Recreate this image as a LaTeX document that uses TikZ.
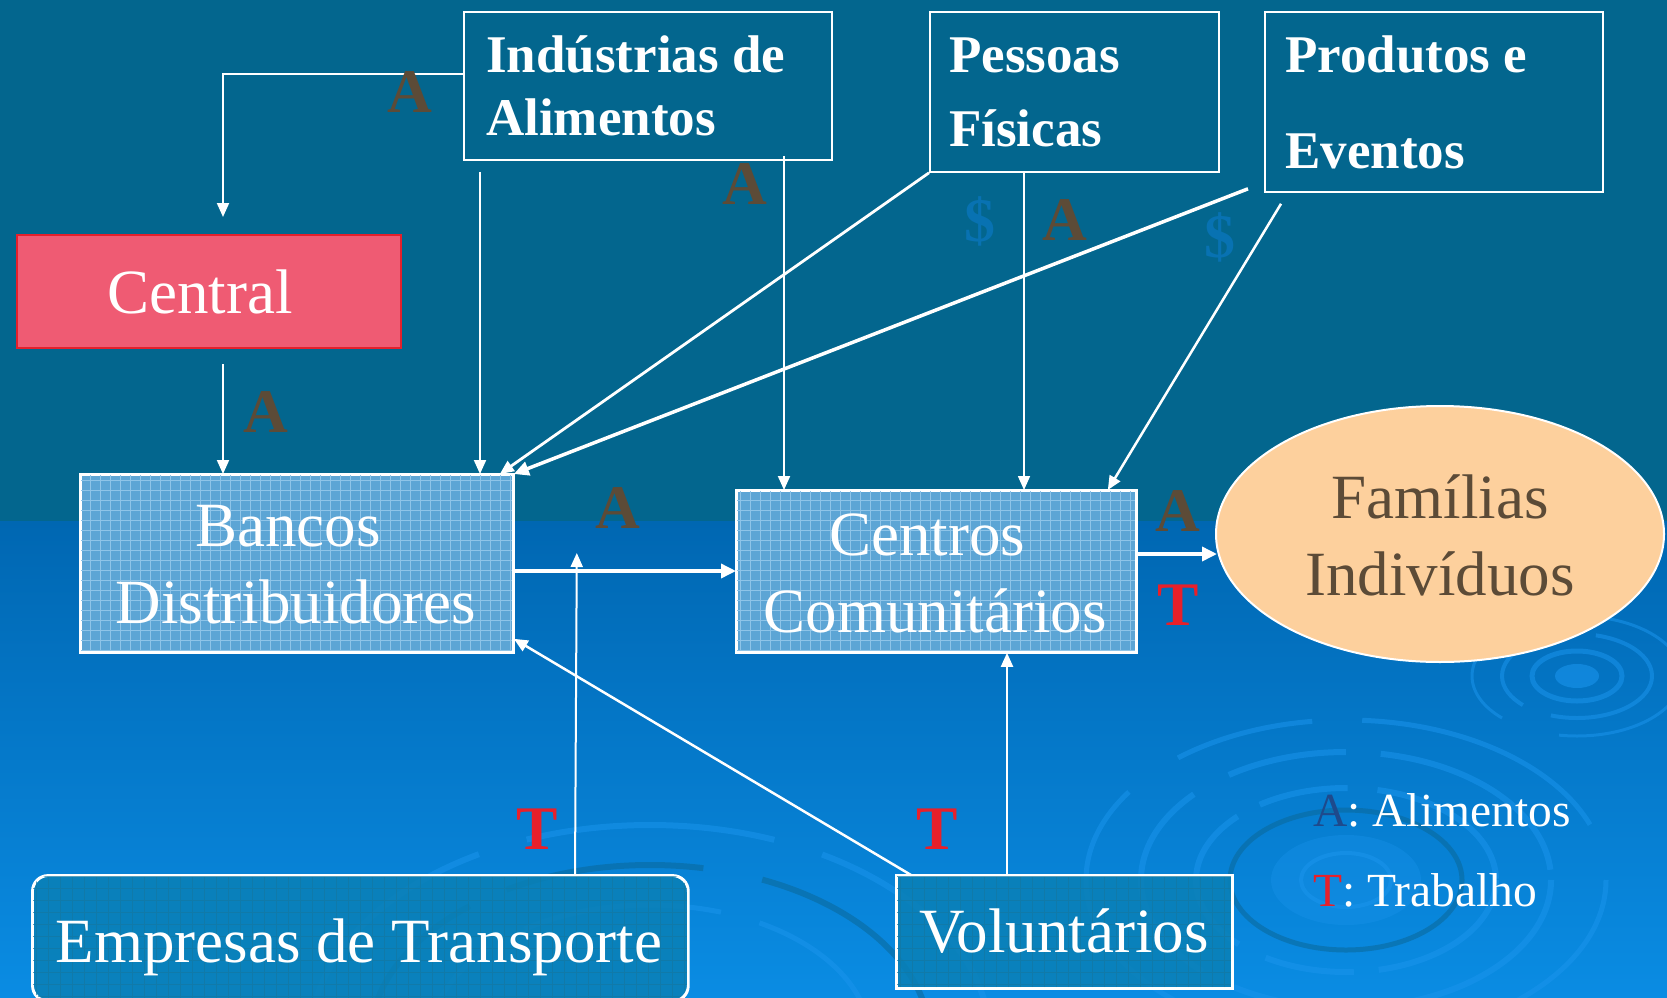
\documentclass[tikz,border=0pt]{standalone}
\usepackage{fontspec}
\setmainfont{Liberation Serif}
\usetikzlibrary{arrows.meta,calc,shapes.geometric}
\definecolor{topbg}{HTML}{03668E}
\definecolor{botA}{HTML}{0067B2}
\definecolor{botB}{HTML}{0A8CE3}
\definecolor{gridfill}{HTML}{5CA5D5}
\definecolor{gridln}{HTML}{8EC4E8}
\definecolor{tealfill}{HTML}{0A80B6}
\definecolor{tealln}{HTML}{1478A2}
\definecolor{centfill}{HTML}{EF5B73}
\definecolor{centdraw}{HTML}{E4202C}
\definecolor{famfill}{HTML}{FDD09D}
\definecolor{brownA}{HTML}{5C4B37}
\definecolor{redT}{HTML}{E8202A}
\definecolor{dollar}{HTML}{0872B2}
\definecolor{legA}{HTML}{1E4A8C}
\definecolor{ripL}{HTML}{1A94EC}
\definecolor{ripD}{HTML}{0A6A9E}
\newcommand\fsTop{\fontsize{53}{60}\selectfont\bfseries}
\newcommand\fsReg{\fontsize{63}{70}\selectfont}
\newcommand\fsLab{\fontsize{62}{70}\selectfont\bfseries}
\newcommand\fsLeg{\fontsize{47.5}{55}\selectfont}
\begin{document}
\begin{tikzpicture}[x=1pt,y=-1pt,
  topbox/.style={draw=white, line width=1.8pt, inner sep=0pt, anchor=north west},
  gridbox/.style={draw=white, line width=1.8pt, fill=gridfill, inner sep=0pt, anchor=north west},
  tealbox/.style={draw=white, line width=1.8pt, fill=tealfill, fill opacity=0.85, inner sep=0pt, anchor=north west},
  toptxt/.style={text=white, font=\fsTop, inner sep=0pt, anchor=base west},
  regtxt/.style={text=white, font=\fsReg, inner sep=0pt, anchor=base},
  labA/.style={text=brownA, font=\fsLab, inner sep=0pt},
  labT/.style={text=redT, font=\fsLab, inner sep=0pt},
  labD/.style={text=dollar, font=\fsLab, inner sep=0pt},
  legtxt/.style={text=white, font=\fsLeg, inner sep=0pt, anchor=base west},
  arr/.style={draw=white, line width=2pt, -{Triangle[length=14pt,width=12pt]}},
  thickarr/.style={draw=white, line width=3.5pt, -{Triangle[length=15pt,width=14pt]}},
  ripple/.style={draw=ripL, opacity=0.55},
  rippled/.style={draw=ripD, opacity=0.6}
]
\useasboundingbox (0,0) rectangle (1667,998);
% background
\fill[topbg] (0,0) rectangle (1667,521);
\shade[top color=botA, bottom color=botB] (0,521) rectangle (1667,998);

% ripples
\fill[ripL, opacity=0.35] (1346,880) ellipse [x radius=75, y radius=45];
\draw[ripple, line width=4pt] (1346,880) ellipse [x radius=45, y radius=27];
\draw[rippled, line width=5pt] (1346,880) ellipse [x radius=116, y radius=70];
\draw[ripple, line width=6pt, dash pattern=on 160pt off 25pt on 90pt off 30pt] (1346,880) ellipse [x radius=150, y radius=92];
\draw[ripple, line width=6pt, dash pattern=on 220pt off 40pt on 120pt off 35pt] (1346,880) ellipse [x radius=205, y radius=128];
\draw[ripple, line width=5pt, dash pattern=on 260pt off 60pt on 140pt off 50pt] (1346,880) ellipse [x radius=260, y radius=160];
\fill[ripL, opacity=0.6] (1577,676) ellipse [x radius=22, y radius=12];
\draw[ripple, line width=5pt] (1577,676) ellipse [x radius=45, y radius=25];
\draw[ripple, line width=4pt, dash pattern=on 120pt off 30pt] (1577,676) ellipse [x radius=75, y radius=42];
\draw[ripple, line width=3pt, dash pattern=on 150pt off 60pt] (1577,676) ellipse [x radius=105, y radius=60];
\draw[rippled, line width=6pt, dash pattern=on 300pt off 40pt on 200pt off 60pt] (650,1040) ellipse [x radius=280, y radius=175];
\draw[ripple, line width=6pt, dash pattern=on 250pt off 50pt] (650,1040) ellipse [x radius=340, y radius=215];
\draw[ripple, line width=5pt, dash pattern=on 200pt off 40pt] (650,1040) ellipse [x radius=220, y radius=135];

% top boxes
\node[topbox, minimum width=368pt, minimum height=148pt] (ind) at (463,11) {};
\node[topbox, minimum width=289pt, minimum height=160pt] (pes) at (929,11) {};
\node[topbox, minimum width=338pt, minimum height=180pt] (pro) at (1264,11) {};
\node[toptxt] (tind1) at (486,72) {Indústrias de};
\node[toptxt] (tind2) at (486,135) {Alimentos};
\node[toptxt] (tpes1) at (949,72) {Pessoas};
\node[toptxt] (tpes2) at (949,146) {Físicas};
\node[toptxt] (tpro1) at (1285,72) {Produtos e};
\node[toptxt] (tpro2) at (1285,168) {Eventos};

% Central
\node[draw=centdraw, fill=centfill, line width=2pt, inner sep=0pt, anchor=north west,
  minimum width=384pt, minimum height=113pt] (cen) at (16,234) {};
\node[regtxt] (tcen) at (200,313) {Central};

% grid boxes
\node[gridbox, minimum width=432pt, minimum height=177pt] (ban) at (80,474) {};
\draw[gridln, line width=0.8pt, step=10pt] (80,474) grid (512,651);
\draw[white, line width=1.8pt] (ban.north west) rectangle (ban.south east);
\node[gridbox, minimum width=399pt, minimum height=161pt] (ctr) at (736,490) {};
\draw[gridln, line width=0.8pt, step=10pt] (736,490) grid (1135,651);
\draw[white, line width=1.8pt] (ctr.north west) rectangle (ctr.south east);
\node[regtxt] (tban1) at (288,546) {Bancos};
\node[regtxt] (tban2) at (296,623) {Distribuidores};
\node[regtxt] (tctr1) at (927,555) {Centros};
\node[regtxt] (tctr2) at (935,632) {Comunitários};

% Familias
\node[ellipse, draw=white, line width=2pt, fill=famfill, inner sep=0pt,
  minimum width=448pt, minimum height=256pt] (fam) at (1440,534) {};
\node[regtxt, text=brownA] (tfam1) at (1440,518) {Famílias};
\node[regtxt, text=brownA] (tfam2) at (1440,595) {Indivíduos};

% bottom boxes
\node[tealbox, rounded corners=16pt, minimum width=655pt, minimum height=125pt] (emp) at (32,875) {};
\begin{scope}
  \clip[rounded corners=16pt] (32,875) rectangle (687,1000);
  \draw[tealln, line width=0.7pt, opacity=0.7, step=12pt] (32,875) grid (687,1000);
\end{scope}
\draw[white, line width=1.8pt, rounded corners=16pt] (emp.north west) rectangle (emp.south east);
\node[tealbox, minimum width=335pt, minimum height=112pt] (vol) at (896,875) {};
\draw[tealln, line width=0.7pt, opacity=0.7, step=12pt] (896,875) grid (1231,987);
\draw[white, line width=1.8pt] (vol.north west) rectangle (vol.south east);
\node[regtxt] (temp) at (359,962) {Empresas de Transporte};
\node[regtxt] (tvol) at (1064,952) {Voluntários};

% connectors
\draw[arr] ($(ind.north west)+(0,63)$) -| ($(cen.north west)+(207,-17)$);
\draw[arr] ($(cen.south west)+(207,15)$) -- ($(ban.north west)+(143,0)$);
\draw[arr] ($(ind.south west)+(17,11)$) -- ($(ban.north west)+(400,0)$);
\draw[arr] ($(ind.south west)+(321,-5)$) -- ($(ctr.north west)+(48,0)$);
\draw[arr, line width=2.8pt] (pes.south west) -- ($(ban.north east)+(-14,0)$);
\draw[thickarr] ($(pro.south west)+(-16,-4)$) -- (ban.north east);
\draw[arr, line width=1.6pt] ($(pes.south west)+(95,0)$) -- ($(ctr.north west)+(288,0)$);
\draw[arr, line width=2.5pt] ($(pro.south west)+(17,11)$) -- ($(ctr.north east)+(-29,0)$);
\draw[thickarr] ($(ban.north east)+(0,97)$) -- ($(ctr.north west)+(0,81)$);
\draw[arr] ($(emp.north west)+(543,0)$) -- ($(ban.north east)+(63,79)$);
\draw[arr, line width=2.5pt] ($(vol.north west)+(15,0)$) -- ($(ban.south east)+(0,-14)$);
\draw[arr] ($(vol.north west)+(111,0)$) -- ($(ctr.south west)+(271,0)$);
\draw[thickarr] ($(ctr.north east)+(0,64)$) -- ($(fam.west)+(2,20)$);

% labels
\node[labA] (la1) at (410,92) {A};
\node[labA] (la2) at (266,412) {A};
\node[labA] (la3) at (745,184) {A};
\node[labD] (ld1) at (980,221) {\$};
\node[labA] (la4) at (1065,220) {A};
\node[labD] (ld2) at (1220,237) {\$};
\node[labA] (la5) at (618,508) {A};
\node[labA] (la6) at (1178,511) {A};
\node[labT] (lt1) at (1178,605) {T};
\node[labT] (lt2) at (537,829) {T};
\node[labT] (lt3) at (937,829) {T};

% legend
\node[legtxt] (leg1) at (1313,826) {\textcolor{legA}{A}: Alimentos};
\node[legtxt] (leg2) at (1313,906) {\textcolor{redT}{T}: Trabalho};
\end{tikzpicture}
\end{document}
